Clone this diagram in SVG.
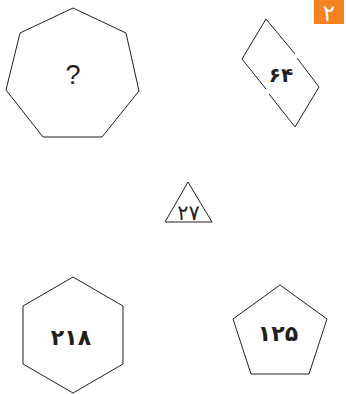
<svg xmlns="http://www.w3.org/2000/svg" width="346" height="394" viewBox="0 0 346 394">
<style>
.sh{fill:none;stroke:#231f20;stroke-width:1;stroke-linejoin:miter}
.t{font-family:"DejaVu Sans","Noto Sans",sans-serif;fill:#231f20;text-anchor:middle;font-weight:bold}
.q{font-family:"Liberation Sans",Arial,sans-serif;fill:#231f20;text-anchor:middle}
</style>
<rect width="346" height="394" fill="#ffffff"/>
<g id="badge">
<rect x="314" y="0" width="30" height="24" fill="#f58220"/>
<text x="329" y="21" class="t" style="fill:#ffffff;font-size:23px;font-weight:normal">۲</text>
</g>
<g id="heptagon">
<polygon class="sh" points="73,8 126,33 139,91 102,137 43,137 6,90 20,33"/>
<text x="73" y="84" class="q" font-size="27">?</text>
</g>
<g id="rhombus">
<polyline class="sh" points="295,54 266,19 242,59 266,89"/>
<polyline class="sh" points="297,58 319,87 295,127 269,94"/>
<text x="281" y="82" class="t" font-size="20">۶۴</text>
</g>
<g id="triangle">
<polygon class="sh" points="188,182 165,222 212,222"/>
<text x="188.5" y="220" class="t" style="font-weight:normal" font-size="21">۲۷</text>
</g>
<g id="hexagon">
<polygon class="sh" points="73,277 123,306 123,364 73,393 23,364 23,306"/>
<text x="71" y="345" class="t" font-size="22">۲۱۸</text>
</g>
<g id="pentagon">
<polygon class="sh" points="280,285 327,319 309,374 251,374 233,319"/>
<text x="278" y="341" class="t" font-size="22">۱۲۵</text>
</g>
<g id="connectors"></g>
</svg>
